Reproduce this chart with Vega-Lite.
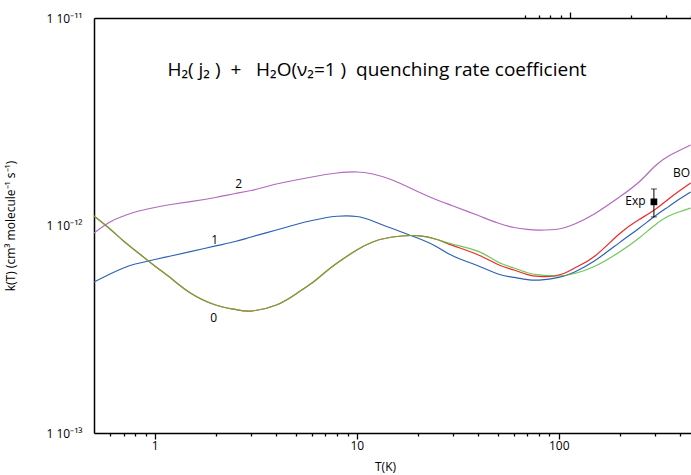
{
  "$schema": "https://vega.github.io/schema/vega-lite/v6.json",
  "width": 598,
  "height": 415,
  "autosize": {"type": "none"},
  "padding": {"left": 94, "top": 18, "right": 0, "bottom": 42},
  "background": "white",
  "config": {
    "view": {"stroke": null},
    "font": "Open Sans",
    "axis": {
      "domainColor": "black", "domainWidth": 1.5, "tickColor": "black", "tickWidth": 1.3,
      "labelColor": "black", "labelFont": "Open Sans", "labelFontSize": 12,
      "titleColor": "black", "titleFont": "Open Sans", "titleFontSize": 12, "titleFontWeight": "normal",
      "grid": false
    }
  },
  "title": {
    "text": "H₂( j₂ )\u00a0 +\u00a0\u00a0 H₂O(ν₂=1 )\u00a0 quenching rate coefficient",
    "fontSize": 19, "fontWeight": "normal", "font": "Open Sans", "color": "black",
    "anchor": "middle", "offset": 0, "baseline": "alphabetic", "dy": 84, "dx": -16
  },
  "datasets": {
    "curves": [
      {"T": 0.5, "k": 9.20e-13, "curve": "2"}, {"T": 0.6, "k": 1.040e-12, "curve": "2"}, {"T": 0.7, "k": 1.111e-12, "curve": "2"},
      {"T": 0.8, "k": 1.162e-12, "curve": "2"}, {"T": 1, "k": 1.221e-12, "curve": "2"}, {"T": 1.2, "k": 1.262e-12, "curve": "2"},
      {"T": 1.5, "k": 1.302e-12, "curve": "2"}, {"T": 2, "k": 1.364e-12, "curve": "2"}, {"T": 2.5, "k": 1.426e-12, "curve": "2"},
      {"T": 3, "k": 1.475e-12, "curve": "2"}, {"T": 4, "k": 1.585e-12, "curve": "2"}, {"T": 5, "k": 1.657e-12, "curve": "2"},
      {"T": 6, "k": 1.713e-12, "curve": "2"}, {"T": 7, "k": 1.761e-12, "curve": "2"}, {"T": 8, "k": 1.791e-12, "curve": "2"},
      {"T": 10, "k": 1.811e-12, "curve": "2"}, {"T": 12, "k": 1.771e-12, "curve": "2"}, {"T": 15, "k": 1.657e-12, "curve": "2"},
      {"T": 20, "k": 1.458e-12, "curve": "2"}, {"T": 25, "k": 1.327e-12, "curve": "2"}, {"T": 30, "k": 1.242e-12, "curve": "2"},
      {"T": 40, "k": 1.117e-12, "curve": "2"}, {"T": 50, "k": 1.028e-12, "curve": "2"}, {"T": 60, "k": 9.78e-13, "curve": "2"},
      {"T": 70, "k": 9.57e-13, "curve": "2"}, {"T": 80, "k": 9.51e-13, "curve": "2"}, {"T": 100, "k": 9.62e-13, "curve": "2"},
      {"T": 120, "k": 1.017e-12, "curve": "2"}, {"T": 150, "k": 1.136e-12, "curve": "2"}, {"T": 200, "k": 1.372e-12, "curve": "2"},
      {"T": 250, "k": 1.620e-12, "curve": "2"}, {"T": 300, "k": 1.935e-12, "curve": "2"}, {"T": 350, "k": 2.163e-12, "curve": "2"},
      {"T": 400, "k": 2.311e-12, "curve": "2"}, {"T": 450, "k": 2.443e-12, "curve": "2"},

      {"T": 0.5, "k": 5.34e-13, "curve": "1"}, {"T": 0.6, "k": 5.84e-13, "curve": "1"}, {"T": 0.7, "k": 6.24e-13, "curve": "1"},
      {"T": 0.8, "k": 6.52e-13, "curve": "1"}, {"T": 1, "k": 6.86e-13, "curve": "1"}, {"T": 1.2, "k": 7.13e-13, "curve": "1"},
      {"T": 1.5, "k": 7.48e-13, "curve": "1"}, {"T": 2, "k": 7.97e-13, "curve": "1"}, {"T": 2.5, "k": 8.37e-13, "curve": "1"},
      {"T": 3, "k": 8.80e-13, "curve": "1"}, {"T": 4, "k": 9.51e-13, "curve": "1"}, {"T": 5, "k": 1.011e-12, "curve": "1"},
      {"T": 6, "k": 1.057e-12, "curve": "1"}, {"T": 7, "k": 1.090e-12, "curve": "1"}, {"T": 8, "k": 1.108e-12, "curve": "1"},
      {"T": 10, "k": 1.105e-12, "curve": "1"}, {"T": 12, "k": 1.051e-12, "curve": "1"}, {"T": 15, "k": 9.67e-13, "curve": "1"},
      {"T": 20, "k": 8.70e-13, "curve": "1"}, {"T": 25, "k": 7.88e-13, "curve": "1"}, {"T": 30, "k": 7.13e-13, "curve": "1"},
      {"T": 40, "k": 6.38e-13, "curve": "1"}, {"T": 50, "k": 5.84e-13, "curve": "1"}, {"T": 60, "k": 5.62e-13, "curve": "1"},
      {"T": 70, "k": 5.49e-13, "curve": "1"}, {"T": 80, "k": 5.46e-13, "curve": "1"}, {"T": 100, "k": 5.62e-13, "curve": "1"},
      {"T": 120, "k": 5.97e-13, "curve": "1"}, {"T": 150, "k": 6.74e-13, "curve": "1"}, {"T": 200, "k": 8.27e-13, "curve": "1"},
      {"T": 250, "k": 9.70e-13, "curve": "1"}, {"T": 300, "k": 1.111e-12, "curve": "1"}, {"T": 350, "k": 1.233e-12, "curve": "1"},
      {"T": 400, "k": 1.349e-12, "curve": "1"}, {"T": 450, "k": 1.450e-12, "curve": "1"},

      {"T": 0.5, "k": 1.111e-12, "curve": "BO"}, {"T": 0.6, "k": 9.62e-13, "curve": "BO"}, {"T": 0.7, "k": 8.42e-13, "curve": "BO"},
      {"T": 0.8, "k": 7.58e-13, "curve": "BO"}, {"T": 1, "k": 6.38e-13, "curve": "BO"}, {"T": 1.2, "k": 5.58e-13, "curve": "BO"},
      {"T": 1.5, "k": 4.73e-13, "curve": "BO"}, {"T": 2, "k": 4.14e-13, "curve": "BO"}, {"T": 2.5, "k": 3.94e-13, "curve": "BO"},
      {"T": 3, "k": 3.87e-13, "curve": "BO"}, {"T": 4, "k": 4.14e-13, "curve": "BO"}, {"T": 5, "k": 4.68e-13, "curve": "BO"},
      {"T": 6, "k": 5.28e-13, "curve": "BO"}, {"T": 7, "k": 5.97e-13, "curve": "BO"}, {"T": 8, "k": 6.60e-13, "curve": "BO"},
      {"T": 10, "k": 7.62e-13, "curve": "BO"}, {"T": 12, "k": 8.33e-13, "curve": "BO"}, {"T": 15, "k": 8.80e-13, "curve": "BO"},
      {"T": 20, "k": 8.93e-13, "curve": "BO"}, {"T": 25, "k": 8.56e-13, "curve": "BO"}, {"T": 30, "k": 8.00e-13, "curve": "BO"},
      {"T": 40, "k": 7.21e-13, "curve": "BO"}, {"T": 50, "k": 6.49e-13, "curve": "BO"}, {"T": 60, "k": 6.10e-13, "curve": "BO"},
      {"T": 70, "k": 5.80e-13, "curve": "BO"}, {"T": 80, "k": 5.68e-13, "curve": "BO"}, {"T": 100, "k": 5.77e-13, "curve": "BO"},
      {"T": 120, "k": 6.24e-13, "curve": "BO"}, {"T": 150, "k": 7.09e-13, "curve": "BO"}, {"T": 200, "k": 9.12e-13, "curve": "BO"},
      {"T": 250, "k": 1.068e-12, "curve": "BO"}, {"T": 300, "k": 1.194e-12, "curve": "BO"}, {"T": 350, "k": 1.342e-12, "curve": "BO"},
      {"T": 400, "k": 1.478e-12, "curve": "BO"}, {"T": 450, "k": 1.603e-12, "curve": "BO"},

      {"T": 0.5, "k": 1.111e-12, "curve": "0"}, {"T": 0.6, "k": 9.62e-13, "curve": "0"}, {"T": 0.7, "k": 8.42e-13, "curve": "0"},
      {"T": 0.8, "k": 7.58e-13, "curve": "0"}, {"T": 1, "k": 6.38e-13, "curve": "0"}, {"T": 1.2, "k": 5.58e-13, "curve": "0"},
      {"T": 1.5, "k": 4.73e-13, "curve": "0"}, {"T": 2, "k": 4.14e-13, "curve": "0"}, {"T": 2.5, "k": 3.94e-13, "curve": "0"},
      {"T": 3, "k": 3.87e-13, "curve": "0"}, {"T": 4, "k": 4.14e-13, "curve": "0"}, {"T": 5, "k": 4.68e-13, "curve": "0"},
      {"T": 6, "k": 5.28e-13, "curve": "0"}, {"T": 7, "k": 5.97e-13, "curve": "0"}, {"T": 8, "k": 6.60e-13, "curve": "0"},
      {"T": 10, "k": 7.62e-13, "curve": "0"}, {"T": 12, "k": 8.33e-13, "curve": "0"}, {"T": 15, "k": 8.80e-13, "curve": "0"},
      {"T": 20, "k": 8.93e-13, "curve": "0"}, {"T": 25, "k": 8.56e-13, "curve": "0"}, {"T": 30, "k": 8.12e-13, "curve": "0"},
      {"T": 40, "k": 7.50e-13, "curve": "0"}, {"T": 50, "k": 6.67e-13, "curve": "0"}, {"T": 60, "k": 6.24e-13, "curve": "0"},
      {"T": 70, "k": 5.92e-13, "curve": "0"}, {"T": 80, "k": 5.78e-13, "curve": "0"}, {"T": 100, "k": 5.71e-13, "curve": "0"},
      {"T": 120, "k": 5.87e-13, "curve": "0"}, {"T": 150, "k": 6.34e-13, "curve": "0"}, {"T": 200, "k": 7.45e-13, "curve": "0"},
      {"T": 250, "k": 8.70e-13, "curve": "0"}, {"T": 300, "k": 1.006e-12, "curve": "0"}, {"T": 350, "k": 1.111e-12, "curve": "0"},
      {"T": 400, "k": 1.168e-12, "curve": "0"}, {"T": 450, "k": 1.214e-12, "curve": "0"}
    ],
    "labels": [
      {"T": 2.605, "k": 1.585e-12, "label": "2"},
      {"T": 1.982, "k": 8.51e-13, "label": "1"},
      {"T": 1.959, "k": 3.58e-13, "label": "0"},
      {"T": 406, "k": 1.791e-12, "label": "BO"},
      {"T": 240, "k": 1.312e-12, "label": "Exp"}
    ],
    "exp": [
      {"T": 296, "k": 1.30e-12, "lo": 1.10e-12, "hi": 1.50e-12}
    ]
  },
  "layer": [
    {
      "data": {"name": "curves"},
      "transform": [{"filter": "datum.curve == '2'"}],
      "mark": {"type": "line", "interpolate": "natural", "strokeWidth": 1.2, "color": "#b468c0"},
      "encoding": {
        "x": {"field": "T", "type": "quantitative", "scale": {"type": "log", "domain": [0.5, 457], "nice": false},
          "axis": {
            "orient": "bottom", "title": "T(K)", "titleX": 291, "titlePadding": 10, "domain": true, "ticks": false,
            "values": [1, 10, 100],
            "labelExpr": "datum.value == 1 ? '1' : datum.value == 10 ? '10' : '100'",
            "labelPadding": 7
          }},
        "y": {"field": "k", "type": "quantitative", "scale": {"type": "log", "domain": [1e-13, 1e-11], "nice": false},
          "axis": {
            "orient": "left", "title": "k(T) (cm³ molecule⁻¹ s⁻¹)", "titlePadding": 28, "domain": true, "ticks": false,
            "values": [1e-13, 1e-12, 1e-11],
            "labelExpr": "datum.value == 1e-11 ? '1 10⁻¹¹' : datum.value == 1e-12 ? '1 10⁻¹²' : '1 10⁻¹³'",
            "labelPadding": 12
          }}
      }
    },
    {
      "data": {"name": "curves"},
      "transform": [{"filter": "datum.curve == '1'"}],
      "mark": {"type": "line", "interpolate": "natural", "strokeWidth": 1.2, "color": "#2c62b4"},
      "encoding": {
        "x": {"field": "T", "type": "quantitative",
          "axis": {"orient": "top", "position": 415, "title": null, "labels": false, "domain": false, "ticks": true,
            "values": [1, 10, 100], "tickSize": 6}},
        "y": {"field": "k", "type": "quantitative",
          "axis": {"orient": "right", "position": 0, "title": null, "labels": false, "domain": false, "ticks": true,
            "values": [1e-13, 1e-12, 1e-11], "tickSize": 6}}
      }
    },
    {
      "data": {"name": "curves"},
      "transform": [{"filter": "datum.curve == 'BO'"}],
      "mark": {"type": "line", "interpolate": "natural", "strokeWidth": 1.2, "color": "#f02828"},
      "encoding": {
        "x": {"field": "T", "type": "quantitative",
          "axis": {"orient": "top", "position": 415, "title": null, "labels": false, "domain": false, "ticks": true,
            "values": [0.6, 0.7, 0.8, 0.9, 2, 3, 4, 5, 6, 7, 8, 9, 20, 30, 40, 50, 60, 70, 80, 90, 200, 300, 400], "tickSize": 3}},
        "y": {"field": "k", "type": "quantitative",
          "axis": {"orient": "right", "position": 0, "title": null, "labels": false, "domain": false, "ticks": true,
            "values": [2e-13, 3e-13, 4e-13, 5e-13, 6e-13, 7e-13, 8e-13, 9e-13, 2e-12, 3e-12, 4e-12, 5e-12, 6e-12, 7e-12, 8e-12, 9e-12], "tickSize": 3}}
      }
    },
    {
      "data": {"name": "curves"},
      "transform": [{"filter": "datum.curve == '0'"}],
      "mark": {"type": "line", "interpolate": "natural", "strokeWidth": 1.2, "color": "#58be3c", "opacity": 0.85},
      "encoding": {
        "x": {"field": "T", "type": "quantitative",
          "axis": {"orient": "bottom", "position": 0, "title": null, "labels": false, "domain": false, "ticks": true,
            "values": [1, 10, 100], "tickSize": 6}},
        "y": {"field": "k", "type": "quantitative", "axis": null}
      }
    },
    {
      "data": {"name": "exp"},
      "mark": {"type": "rule", "color": "black", "strokeWidth": 1},
      "encoding": {
        "x": {"field": "T", "type": "quantitative",
          "axis": {"orient": "bottom", "position": 0, "title": null, "labels": false, "domain": false, "ticks": true,
            "values": [0.6, 0.7, 0.8, 0.9, 2, 3, 4, 5, 6, 7, 8, 9, 20, 30, 40, 50, 60, 70, 80, 90, 200, 300, 400], "tickSize": 3}},
        "y": {"field": "lo", "type": "quantitative", "axis": null},
        "y2": {"field": "hi"}
      }
    },
    {
      "data": {"name": "exp"},
      "mark": {"type": "tick", "orient": "horizontal", "color": "black", "size": 6, "thickness": 1},
      "encoding": {
        "x": {"field": "T", "type": "quantitative",
          "axis": {"orient": "top", "title": null, "labels": false, "domain": true, "ticks": false, "values": [1]}},
        "y": {"field": "lo", "type": "quantitative", "axis": null}
      }
    },
    {
      "data": {"name": "exp"},
      "mark": {"type": "tick", "orient": "horizontal", "color": "black", "size": 6, "thickness": 1},
      "encoding": {
        "x": {"field": "T", "type": "quantitative", "axis": null},
        "y": {"field": "hi", "type": "quantitative", "axis": null}
      }
    },
    {
      "data": {"name": "exp"},
      "mark": {"type": "square", "color": "black", "filled": true, "opacity": 1, "size": 45},
      "encoding": {
        "x": {"field": "T", "type": "quantitative", "axis": null},
        "y": {"field": "k", "type": "quantitative", "axis": null}
      }
    },
    {
      "data": {"name": "labels"},
      "mark": {"type": "text", "font": "Open Sans", "fontSize": 12, "color": "black", "align": "center", "baseline": "middle"},
      "encoding": {
        "x": {"field": "T", "type": "quantitative", "axis": null},
        "y": {"field": "k", "type": "quantitative", "axis": null},
        "text": {"field": "label"}
      }
    }
  ],
  "resolve": {"axis": {"x": "independent", "y": "independent"}}
}
